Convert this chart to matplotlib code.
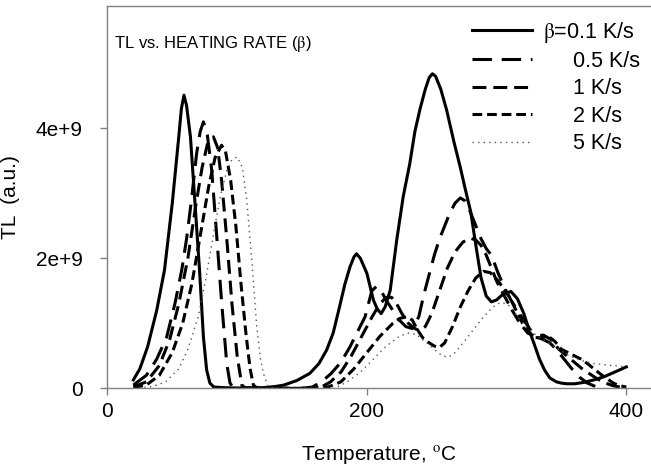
import matplotlib
matplotlib.use('agg')
import matplotlib.pyplot as plt
from matplotlib.ticker import FuncFormatter

plt.rcParams['font.family'] = ['Liberation Sans', 'DejaVu Sans']
plt.rcParams['mathtext.fontset'] = 'stix'
plt.rcParams['lines.scale_dashes'] = False

# TL glow curves, intensity in units of 1e9
t_01 = [20, 25, 31, 38, 44, 50, 55, 57, 59, 61, 64, 67.5, 71, 74, 76.5, 79, 82, 90, 100, 110, 120, 130,
        136, 146, 156, 163, 169, 174, 179, 183, 187, 190, 192, 195, 200, 205, 208, 211, 214, 218, 223, 228,
        233, 237, 241, 245, 248, 250.5, 253, 257, 261.5, 267, 272, 276, 280, 284, 288, 292, 296, 300, 305,
        311, 316, 321, 325, 329, 333, 337, 341, 346, 350, 354, 360, 367, 375, 383, 391, 400]
tl_01 = [0.13, 0.3, 0.64, 1.2, 1.82, 2.85, 3.87, 4.3, 4.51, 4.35, 3.87, 2.85, 1.82, 0.79, 0.28, 0.08, 0.02,
         0.01, 0.005, 0.005, 0.01, 0.03, 0.05, 0.12, 0.23, 0.38, 0.59, 0.85, 1.26, 1.6, 1.87, 2.02, 2.07,
         2.0, 1.77, 1.36, 1.22, 1.15, 1.25, 1.51, 2.28, 2.95, 3.45, 3.95, 4.3, 4.6, 4.78, 4.84, 4.8, 4.6,
         4.28, 3.8, 3.4, 3.05, 2.72, 2.2, 1.7, 1.42, 1.33, 1.36, 1.45, 1.49, 1.38, 1.15, 0.9, 0.68, 0.45,
         0.28, 0.16, 0.1, 0.08, 0.07, 0.07, 0.09, 0.13, 0.18, 0.25, 0.33]

t_05 = [20, 30, 38, 45.7, 52, 57.3, 61, 64.5, 68.8, 71.5, 74, 77, 80.4, 84.3, 88.1, 92, 94.5, 97, 110, 130,
        150, 158, 165, 172, 180, 187, 193, 198.6, 203.8, 207.5, 211, 215, 220, 225, 230, 235, 240, 244,
        248, 252, 256, 260, 264, 268, 272, 276, 280, 284, 288, 292, 296, 301, 306, 311, 316, 321, 326,
        331, 336, 341, 346, 352, 358, 364, 370, 376]
tl_05 = [0.05, 0.2, 0.45, 0.79, 1.3, 1.82, 2.3, 2.85, 3.62, 3.95, 4.10, 3.9, 3.36, 2.33, 1.31, 0.38, 0.08,
         0.01, 0.0, 0.0, 0.0, 0.02, 0.1, 0.22, 0.4, 0.64, 0.88, 1.1, 1.5, 1.57, 1.5, 1.35, 1.2, 1.05, 0.95,
         0.92, 1.1, 1.45, 1.75, 2.05, 2.3, 2.5, 2.7, 2.85, 2.93, 2.88, 2.7, 2.5, 2.3, 2.15, 2.05, 1.78,
         1.55, 1.36, 1.2, 1.05, 0.9, 0.79, 0.75, 0.7, 0.6, 0.45, 0.3, 0.17, 0.08, 0.03]

t_1 = [20, 30, 40, 48, 55, 62, 68, 73, 77, 81.7, 85, 88, 92, 96, 100, 103.6, 106, 120, 140, 160, 165, 172,
       180, 188, 196, 204, 210, 215, 219, 223, 227, 232, 237, 241, 245, 250, 256, 262, 268, 274, 280, 284,
       288, 292, 296, 300, 306, 312, 318, 324, 330, 336, 342, 348, 354, 360, 366, 372, 378, 384, 390, 395]
tl_1 = [0.02, 0.1, 0.35, 0.75, 1.3, 2.0, 2.8, 3.4, 3.75, 3.87, 3.7, 3.2, 2.3, 1.3, 0.5, 0.05, 0.01, 0.0,
        0.0, 0.0, 0.02, 0.1, 0.25, 0.5, 0.8, 1.1, 1.3, 1.4, 1.4, 1.3, 1.15, 1.0, 0.92, 0.88, 0.95, 1.15,
        1.5, 1.85, 2.1, 2.25, 2.31, 2.28, 2.2, 2.05, 1.85, 1.65, 1.42, 1.2, 1.0, 0.85, 0.8, 0.82, 0.75,
        0.6, 0.5, 0.4, 0.3, 0.22, 0.14, 0.08, 0.04, 0.02]

t_2 = [20, 30, 40, 50, 58, 65, 72, 78, 83, 88, 91, 95, 99, 103, 107, 110, 112.5, 115, 130, 150, 170, 180,
       190, 200, 210, 220, 226, 231, 235, 239, 243, 248, 252, 256, 260, 266, 272, 278, 284, 290, 295, 300,
       305, 310, 315, 320, 325, 330, 335, 340, 345, 350, 355, 360, 365, 370, 375, 380, 385, 390, 395, 400]
tl_2 = [0.01, 0.05, 0.2, 0.55, 1.0, 1.6, 2.4, 3.1, 3.55, 3.74, 3.65, 3.2, 2.5, 1.6, 0.8, 0.3, 0.05, 0.01,
        0.0, 0.0, 0.02, 0.1, 0.3, 0.55, 0.8, 1.0, 1.08, 1.1, 1.05, 0.9, 0.78, 0.7, 0.65, 0.63, 0.7, 0.95,
        1.25, 1.5, 1.7, 1.8, 1.78, 1.68, 1.55, 1.4, 1.2, 1.0, 0.85, 0.78, 0.78, 0.8, 0.72, 0.6, 0.55, 0.5,
        0.45, 0.38, 0.3, 0.22, 0.15, 0.08, 0.04, 0.02]

t_5 = [20, 35, 45, 55, 62, 70, 76, 82, 87, 92, 96, 100, 104, 107.4, 111.3, 115.1, 118, 120.2, 124, 130,
       150, 175, 185, 195, 205, 215, 225, 232, 238, 245, 252, 258, 263, 268, 275, 282, 290, 297, 303, 308,
       312, 318, 325, 332, 340, 348, 356, 365, 375, 385, 395, 400]
tl_5 = [0.0, 0.03, 0.1, 0.3, 0.6, 1.1, 1.7, 2.4, 2.95, 3.35, 3.52, 3.56, 3.4, 2.9, 1.97, 0.95, 0.45, 0.23,
        0.02, 0.0, 0.0, 0.0, 0.1, 0.25, 0.45, 0.65, 0.8, 0.85, 0.83, 0.72, 0.6, 0.5, 0.48, 0.55, 0.72, 0.9,
        1.1, 1.25, 1.32, 1.3, 1.22, 1.05, 0.9, 0.8, 0.7, 0.6, 0.5, 0.43, 0.38, 0.36, 0.34, 0.33]

labels = [r'$\mathrm{\beta}$=0.1 K/s', '     0.5 K/s', '     1 K/s', '     2 K/s', '     5 K/s']
yticks = [0, 2e9, 4e9]
xticks = [0, 200, 400]

fig = plt.figure(figsize=(6.51, 4.73), dpi=100)
ax = fig.add_axes([0.165, 0.179, 0.835, 0.808])

ax.plot(t_01, [v * 1e9 for v in tl_01], color='black', lw=2.2, label=labels[0])
ax.plot(t_05, [v * 1e9 for v in tl_05], color='black', lw=2.2, dashes=(14, 7), label=labels[1])
ax.plot(t_1, [v * 1e9 for v in tl_1], color='black', lw=2.2, dashes=(10, 5), label=labels[2])
ax.plot(t_2, [v * 1e9 for v in tl_2], color='black', lw=2.2, dashes=(7, 3.5), label=labels[3])
ax.plot(t_5, [v * 1e9 for v in tl_5], color='#555555', lw=1.0, dashes=(1, 3), label=labels[4])

ax.set_xlim(0, 419)
ax.set_ylim(0, 5.88e9)
ax.set_xticks(xticks)
ax.set_yticks(yticks)
ax.yaxis.set_major_formatter(FuncFormatter(lambda v, p: '0' if v == 0 else '%de+9' % round(v / 1e9)))

for s in ['left', 'bottom', 'top']:
    ax.spines[s].set_color('#808080')
    ax.spines[s].set_linewidth(1.0)
ax.spines['right'].set_visible(False)
ax.tick_params(axis='both', direction='out', length=5, width=1, color='#808080', labelsize=15)
ax.tick_params(axis='x', pad=5)
ax.tick_params(axis='y', pad=13)

ax.set_xlabel('Temperature, $^{\\mathrm{o}}$C', fontsize=15, labelpad=17)
ax.set_ylabel('TL  (a.u.)', fontsize=15, labelpad=11)

ax.text(0.012, 0.902, r'TL vs. HEATING RATE ($\mathrm{\beta}$)', transform=ax.transAxes,
        fontsize=12, va='center', ha='left')

ax.legend(loc='upper left', bbox_to_anchor=(0.67, 0.965), frameon=False, fontsize=15.5,
          handlelength=2.8, handletextpad=0.5, labelspacing=0.3, borderpad=0, borderaxespad=0)

fig.savefig('out.png', dpi=100)
